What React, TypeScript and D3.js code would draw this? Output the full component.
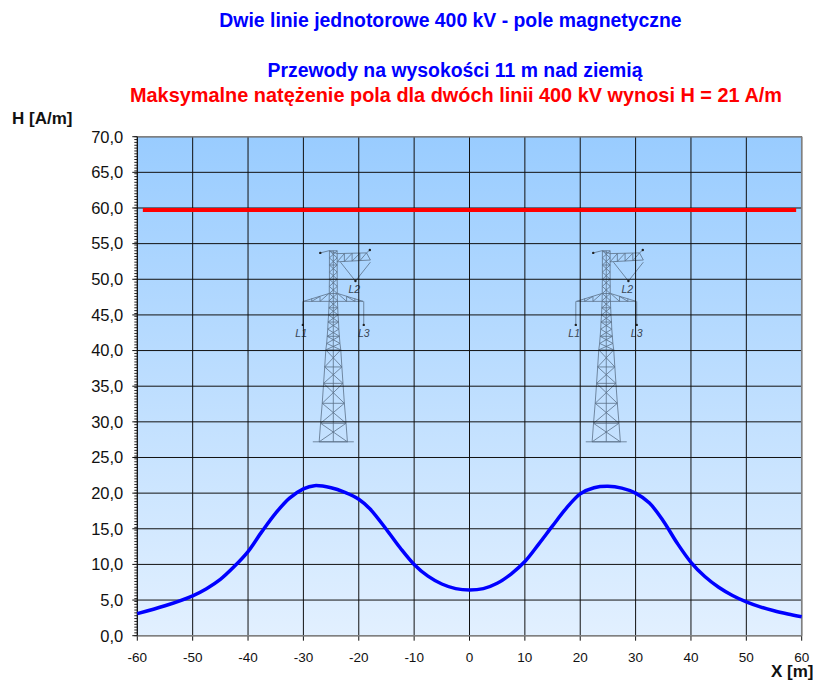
import React from "react";
import * as d3 from "d3";

const xValues = [-60, -55, -50, -47.5, -45, -42.5, -40, -37.5, -35, -32.5, -30, -28, -25, -22.5, -20, -18, -15, -12.5, -10, -7.5, -5, -2.5, 0, 2.5, 5, 7.5, 10, 12.5, 15, 17.5, 20, 22.5, 25, 27.5, 30, 32.5, 35, 37.5, 40, 42.5, 45, 47.5, 50, 52.5, 55, 57.5, 60];
const hValues = [3.1, 4.2, 5.6, 6.6, 7.9, 9.7, 11.8, 14.6, 17.2, 19.3, 20.6, 21.05, 20.75, 20.1, 19.15, 17.8, 14.9, 12.3, 10, 8.35, 7.25, 6.6, 6.4, 6.6, 7.35, 8.65, 10.4, 12.85, 15.4, 17.9, 19.9, 20.75, 20.95, 20.7, 20, 18.6, 16.1, 13, 10.3, 8.3, 6.8, 5.65, 4.75, 4.05, 3.5, 3.05, 2.65];

const limitX = [-59, 59];
const limitH = [59.7, 59.7];

const xTicks = d3.range(-60, 61, 10);
const yTicks = d3.range(0, 71, 5);
const yMinorTicks = d3.range(0, 70.01, 0.4);

const towerCentres = [-24.6, 24.7];
// pylon sections in metres from the tower axis / on the H scale
const towerLevels = [54, 53, 52, 51, 50, 49, 48, 47, 46, 45, 44, 43, 42, 41, 40.1, 37.7, 35.4, 32.6, 29.8, 27.2];
const towerHalfWidths = [0.7, 0.7, 0.7, 0.7, 0.7, 0.72, 0.72, 0.75, 0.8, 0.85, 0.95, 1.0, 1.1, 1.2, 1.35, 1.55, 1.75, 2.0, 2.3, 2.55];

const width = 813;
const height = 681;
const margin = { left: 137.3, right: 813 - 801.7, top: 136.7, bottom: 681 - 635.7 };

const xScale = d3.scaleLinear().domain([-60, 60]).range([margin.left, width - margin.right]);
const yScale = d3.scaleLinear().domain([0, 70]).range([height - margin.bottom, margin.top]);

const Tower = ({ cx }: { cx: number }) => {
  const X = (d: number) => xScale(cx + d);
  const segs: [number, number, number, number][] = [];
  towerLevels.forEach((y, i) => {
    const w = towerHalfWidths[i];
    if (i % 2 === 0 || y < 41) segs.push([-w, y, w, y]);
    if (i === 0) return;
    const py = towerLevels[i - 1];
    const pw = towerHalfWidths[i - 1];
    segs.push([-pw, py, -w, y], [pw, py, w, y], [-pw, py, w, y], [pw, py, -w, y]);
  });
  // axis and ground line
  segs.push([0, 54, 0, 27.2], [-3.7, 27.2, 3.7, 27.2]);
  // lower crossarm
  segs.push([-5.4, 46.9, -0.8, 48], [5.4, 46.9, 0.8, 48], [-5.4, 46.9, 5.4, 46.9]);
  segs.push([-3.9, 46.9, -3.9, 47.3], [-2.4, 46.9, -2.4, 47.6], [2.4, 46.9, 2.4, 47.6], [3.9, 46.9, 3.9, 47.3]);
  segs.push([-3.9, 46.9, -2.4, 47.6], [-2.4, 46.9, -0.8, 48], [3.9, 46.9, 2.4, 47.6], [2.4, 46.9, 0.8, 48]);
  // hanging strings
  segs.push([-5.5, 46.9, -5.5, 43.6], [5.5, 46.9, 5.5, 43.6]);
  // upper crossarm
  segs.push([-2.35, 53.7, -0.8, 54], [-0.8, 54, 0.7, 53.6], [0.7, 53.6, 6, 53.7], [0.7, 52.45, 6.7, 52.7], [6, 53.7, 6.7, 52.7], [6, 53.7, 6.6, 54.1]);
  segs.push([2, 52.5, 2, 53.6], [3.4, 52.55, 3.4, 53.65], [4.8, 52.6, 4.8, 53.65], [0.7, 52.45, 2, 53.6], [2, 52.5, 3.4, 53.65], [3.4, 52.55, 4.8, 53.65], [4.8, 52.6, 6, 53.7]);
  segs.push([1.3, 52.4, 4, 49.75], [6.7, 52.4, 4, 49.75]);

  return (
    <g>
      {segs.map((s, i) => (
        <line
          key={i}
          x1={X(s[0])}
          y1={yScale(s[1])}
          x2={X(s[2])}
          y2={yScale(s[3])}
          stroke="#5a7088"
          strokeWidth={0.8}
        />
      ))}
      {[[-5.5, 43.6], [5.5, 43.6], [4, 49.75], [-2.35, 53.7], [6.6, 54.1]].map((d, i) => (
        <circle key={i} cx={X(d[0])} cy={yScale(d[1])} r={1.2} fill="#222" />
      ))}
      {[["L1", -5.8, 41.9], ["L3", 5.5, 41.9], ["L2", 3.8, 48.06]].map((d) => (
        <text
          key={d[0] as string}
          x={X(d[1] as number)}
          y={yScale(d[2] as number)}
          textAnchor="middle"
          fontSize={10.5}
          fontStyle="italic"
          fill="#3a4654"
        >
          {d[0]}
        </text>
      ))}
    </g>
  );
};

export default function App() {
  const curve = d3
    .line<number>()
    .x((d) => xScale(d))
    .y((_, i) => yScale(hValues[i]))
    .curve(d3.curveCatmullRom);
  const limit = d3
    .line<number>()
    .x((d) => xScale(d))
    .y((_, i) => yScale(limitH[i]));

  const x0 = xScale(-60);
  const x1 = xScale(60);
  const y0 = yScale(0);
  const y1 = yScale(70);

  return (
    <svg
      width={width}
      height={height}
      style={{ position: "absolute", left: 0, top: 0, fontFamily: "'Liberation Sans', Arial, sans-serif" }}
    >
      <defs>
        <linearGradient id="plotBg" x1="0" y1="0" x2="0" y2="1">
          <stop offset="0%" stopColor="#99ccff" />
          <stop offset="100%" stopColor="#e2f0ff" />
        </linearGradient>
      </defs>

      <text x={450.5} y={27} textAnchor="middle" fontSize={19.4} fontWeight="bold" fill="#0000ff">
        Dwie linie jednotorowe 400 kV - pole magnetyczne
      </text>
      <text x={455} y={77} textAnchor="middle" fontSize={19.4} fontWeight="bold" fill="#0000ff">
        Przewody na wysokości 11 m nad ziemią
      </text>
      <text x={456} y={102} textAnchor="middle" fontSize={19.9} fontWeight="bold" fill="#ff0000">
        Maksymalne natężenie pola dla dwóch linii 400 kV wynosi H = 21 A/m
      </text>

      <rect x={x0} y={y1} width={x1 - x0} height={y0 - y1} fill="url(#plotBg)" />

      {towerCentres.map((c) => (
        <Tower key={c} cx={c} />
      ))}

      {xTicks.map((t) => (
        <line key={t} x1={xScale(t)} x2={xScale(t)} y1={y1} y2={y0 + 5} stroke="#111" strokeWidth={1} />
      ))}
      {yTicks.map((t) => (
        <line key={t} x1={x0 - 5} x2={x1} y1={yScale(t)} y2={yScale(t)} stroke="#111" strokeWidth={1} />
      ))}
      {yMinorTicks.map((t) => (
        <line key={t} x1={x0 - 3} x2={x0} y1={yScale(t)} y2={yScale(t)} stroke="#222" strokeWidth={1} />
      ))}

      <line x1={x0} x2={x1} y1={y1} y2={y1} stroke="#808080" strokeWidth={1.5} />
      <line x1={x1} x2={x1} y1={y1} y2={y0} stroke="#808080" strokeWidth={1.5} />
      <line x1={x0} x2={x1} y1={y0} y2={y0} stroke="#808080" strokeWidth={1.5} />
      <line x1={x0} x2={x0} y1={y1} y2={y0} stroke="#111" strokeWidth={1} />

      <path d={limit(limitX) ?? ""} fill="none" stroke="#ff0000" strokeWidth={4} />
      <path d={curve(xValues) ?? ""} fill="none" stroke="#0000ff" strokeWidth={3.5} />

      {yTicks.map((t) => (
        <text key={t} x={x0 - 14} y={yScale(t) + 5.8} textAnchor="end" fontSize={16.5} fill="#111">
          {t.toFixed(1).replace(".", ",")}
        </text>
      ))}
      {xTicks.map((t) => (
        <text key={t} x={xScale(t)} y={661.7} textAnchor="middle" fontSize={13.5} fill="#111">
          {t}
        </text>
      ))}

      <text x={12} y={124} fontSize={17} fontWeight="bold" fill="#111">
        H [A/m]
      </text>
      <text x={771} y={677} fontSize={17} fontWeight="bold" fill="#111">
        X [m]
      </text>
    </svg>
  );
}
